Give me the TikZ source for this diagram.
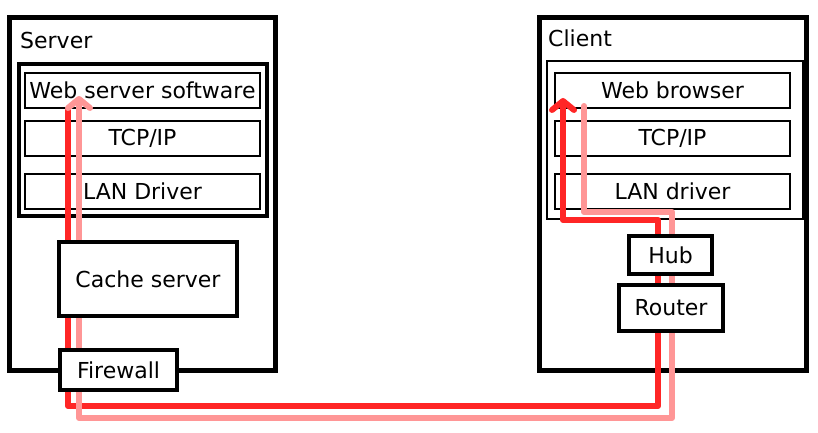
\documentclass[tikz,border=0pt]{standalone}
\usepackage{fontspec}
\setmainfont{DejaVu Sans}
\usepackage{xcolor}
\usetikzlibrary{arrows.meta, positioning, calc}

\definecolor{reqred}{RGB}{255,38,38}
\definecolor{resppink}{RGB}{255,150,150}

\begin{document}
\begin{tikzpicture}[x=1pt, y=-1pt,
  outer/.style={draw, line width=5pt, minimum width=266pt, minimum height=352pt, inner sep=0pt},
  stack/.style={draw, line width=3.2pt, inner sep=0pt},
  layer/.style={draw, line width=2pt, fill=white, minimum width=235pt, minimum height=35pt,
                inner sep=0pt, font=\fontsize{22}{24}\selectfont},
  dev/.style={draw, line width=3.2pt, fill=white, inner sep=0pt, font=\fontsize{22}{24}\selectfont},
  lbl/.style={anchor=west, inner sep=0pt, font=\fontsize{22}{24}\selectfont},
  req/.style={reqred, line width=6pt, line join=round, line cap=round},
  resp/.style={resppink, line width=6pt, line join=round, line cap=round},
  tip/.style={-{Straight Barb[length=9pt, width=22pt, line cap=round, line join=round]}},
]
  \useasboundingbox (0,0) rectangle (818,433);

  % server side
  \node[outer] (server) at (142,194) {};
  \node[lbl] (serverlbl) at (20,40) {Server};
  \node[stack, minimum width=248pt, minimum height=152pt] (sstack) at (143,140) {};
  \node[layer] (wss)  at (142.5,90.5)  {Web server software};
  \node[layer] (stcp) at (142.5,138.5) {TCP/IP};
  \node[layer] (slan) at (142.5,191.5) {LAN Driver};

  % client side
  \node[outer, minimum width=267pt] (client) at (672.5,194) {};
  \node[lbl] (clientlbl) at (548,38) {Client};
  \node[stack, line width=2.4pt, minimum width=256pt, minimum height=158pt] (cstack) at (675,140) {};
  \node[layer] (brw)  at (672.5,90.5)  {Web browser};
  \node[layer] (ctcp) at (672.5,138.5) {TCP/IP};
  \node[layer] (clan) at (672.5,191.5) {LAN driver};

  % request and response paths
  \coordinate (rq0) at (68,110);
  \coordinate (rq1) at (68,406);
  \coordinate (rq2) at (658,406);
  \coordinate (rq3) at (658,220);
  \coordinate (rq4) at (563,220);
  \coordinate (rq5) at (563,98);
  \coordinate (rs0) at (584,106);
  \coordinate (rs1) at (584,212);
  \coordinate (rs2) at (672,212);
  \coordinate (rs3) at (672,418);
  \coordinate (rs4) at (79,418);
  \coordinate (rs5) at (79,96);
  \draw[req, tip]  (rq0) -- (rq1) -- (rq2) -- (rq3) -- (rq4) -- (rq5);
  \draw[resp, tip] (rs0) -- (rs1) -- (rs2) -- (rs3) -- (rs4) -- (rs5);

  % devices on the way
  \node[dev, minimum width=178pt, minimum height=74pt] (cache) at (148,279) {Cache server};
  \node[dev, minimum width=117pt, minimum height=40pt] (fw) at (118.5,370) {Firewall};
  \node[dev, minimum width=83pt, minimum height=38pt] (hub) at (670.5,255) {Hub};
  \node[dev, minimum width=104pt, minimum height=46pt] (rtr) at (671,308) {Router};
\end{tikzpicture}
\end{document}
